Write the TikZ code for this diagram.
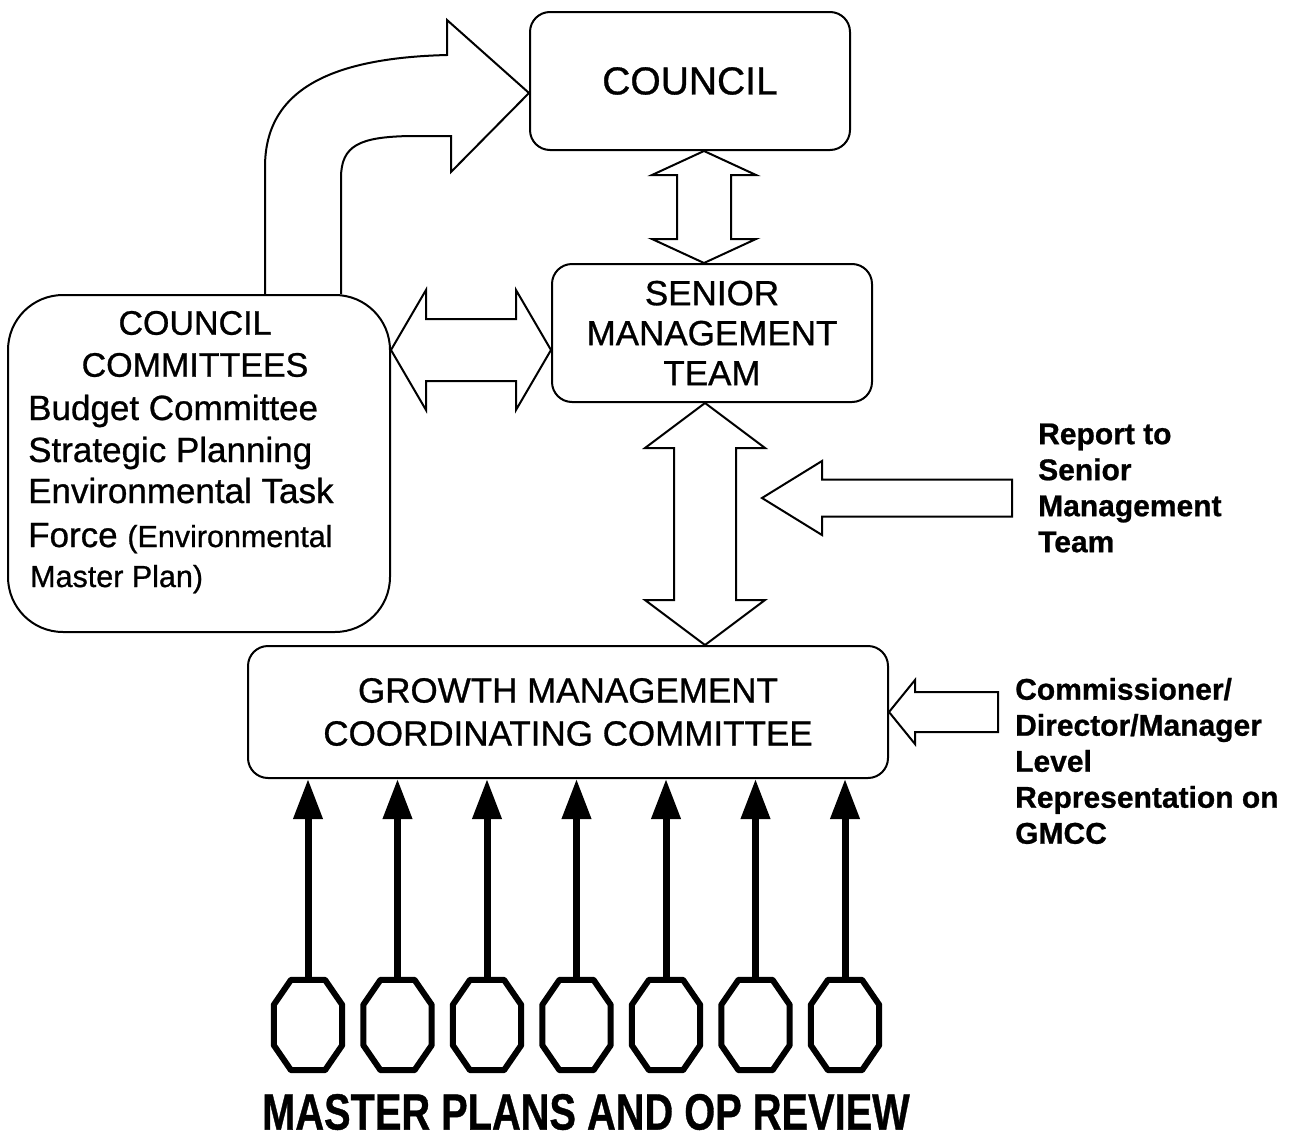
\documentclass[tikz,border=0pt]{standalone}
\usepackage{fontspec}
\setmainfont{Liberation Sans}[FakeBold=0.8]
\usepackage{graphicx}
\usetikzlibrary{calc,arrows.meta}
% vertical double block arrow: top tip, bottom tip, head length, head half width, shaft half width
\newcommand{\vdarrow}[5]{%
  \draw[blk] (#1) -- ($(#1)+(#4,#3)$) -- ($(#1)+(#5,#3)$) -- ($(#2)+(#5,-#3)$) -- ($(#2)+(#4,-#3)$) -- (#2)
    -- ($(#2)+(-#4,-#3)$) -- ($(#2)+(-#5,-#3)$) -- ($(#1)+(-#5,#3)$) -- ($(#1)+(-#4,#3)$) -- cycle;}
% horizontal double block arrow: left tip, right tip, head length, head half width, shaft half width
\newcommand{\hdarrow}[5]{%
  \draw[blk] (#1) -- ($(#1)+(#3,-#4)$) -- ($(#1)+(#3,-#5)$) -- ($(#2)+(-#3,-#5)$) -- ($(#2)+(-#3,-#4)$) -- (#2)
    -- ($(#2)+(-#3,#4)$) -- ($(#2)+(-#3,#5)$) -- ($(#1)+(#3,#5)$) -- ($(#1)+(#3,#4)$) -- cycle;}
% left pointing block arrow: tip, tail end, head length, head half width, shaft half width
\newcommand{\lblkarrow}[5]{%
  \draw[blk] (#1) -- ($(#1)+(#3,-#4)$) -- ($(#1)+(#3,-#5)$) -- ($(#2)+(0,-#5)$) -- ($(#2)+(0,#5)$)
    -- ($(#1)+(#3,#5)$) -- ($(#1)+(#3,#4)$) -- cycle;}
\begin{document}
\begin{tikzpicture}[x=1pt,y=-1pt,
  box/.style={draw,line width=2pt,rounded corners=20pt,inner sep=0pt,align=center},
  blk/.style={draw,line width=2pt,line join=miter},
  oct/.style={draw,line width=6pt,line join=round},
  octnode/.style={minimum width=68pt,minimum height=90pt,inner sep=0pt},
  uparr/.style={line width=7pt,-{Triangle[length=40pt,width=28pt]}},
  listtxt/.style={anchor=base west,inner sep=0pt,font=\fontsize{35}{42}\selectfont},
  sidelbl/.style={font=\bfseries\fontsize{30}{36}\selectfont,align=left,anchor=west,inner sep=0pt},
]
\useasboundingbox (0,0) rectangle (1299,1146);

% boxes
\node[box,minimum width=320pt,minimum height=138pt,font=\fontsize{39}{44}\selectfont] (council) at (690,81) {COUNCIL};
\node[box,minimum width=320pt,minimum height=138pt,font=\fontsize{35}{40}\selectfont] (smt) at (712,333) {SENIOR\\MANAGEMENT\\TEAM};
\node[box,rounded corners=55pt,minimum width=382pt,minimum height=337pt] (committees) at (199,463.5) {};
\node[box,minimum width=640pt,minimum height=132pt,font=\fontsize{35}{43}\selectfont] (gmcc) at (568,712) {GROWTH MANAGEMENT\\COORDINATING COMMITTEE};

% committee text
\node[inner sep=0pt,align=center,font=\fontsize{34}{42}\selectfont] (cchead) at (195,344) {COUNCIL\\COMMITTEES};
\node[listtxt] (l1) at (28,420) {Budget Committee};
\node[listtxt] (l2) at (28,462) {Strategic Planning};
\node[listtxt] (l3) at (28,503) {Environmental Task};
\node[listtxt] (l4) at (28,547) {Force {\fontsize{30.5}{35}\selectfont (Environmental}};
\node[listtxt,font=\fontsize{30.5}{35}\selectfont] (l5) at (30,587) {Master Plan)};

% side labels
\node[sidelbl] (rptl) at (1038,488) {Report to\\Senior\\Management\\Team};
\node[sidelbl] (cml) at (1015,761) {Commissioner/\\Director/Manager\\Level\\Representation on\\GMCC};

% block arrows
\coordinate (a1t) at ($(council.south)+(14,0)$);
\coordinate (a1b) at (a1t |- smt.north);
\vdarrow{a1t}{a1b}{24}{52}{27}
\coordinate (a2t) at ($(smt.south)+(-7,0)$);
\coordinate (a2b) at (a2t |- gmcc.north);
\vdarrow{a2t}{a2b}{45}{60}{31}
\coordinate (hr) at ($(smt.west)+(0,17)$);
\coordinate (hl) at (committees.east |- hr);
\hdarrow{hl}{hr}{35}{60}{31}
\coordinate (rt) at (762,498);
\coordinate (re) at (1012,498);
\lblkarrow{rt}{re}{60}{37}{18.5}
\coordinate (ct) at (gmcc.east);
\coordinate (ce) at ($(gmcc.east)+(109,0)$);
\lblkarrow{ct}{ce}{26}{32}{20}

% curved block arrow from committees to council
\coordinate (cvA) at ($(committees.north)+(66,0)$);
\coordinate (cvB) at ($(committees.north)+(142,0)$);
\coordinate (cvT) at ($(council.west)+(0,12)$);
\draw[blk] (cvA) -- (265,167) .. controls (265,90) and (330,58) .. (447,55) -- (447,20) -- (cvT)
  -- (451,172) -- (451,136) -- (410,136) .. controls (360,137) and (341,145) .. (341,178) -- (cvB);

% master plans
\foreach \i in {1,...,7} {
  \node[octnode] (o\i) at ({308+89.5*(\i-1)},1025) {};
  \draw[oct] ($(o\i.north)+(-17,0)$) -- ($(o\i.north)+(17,0)$) -- ($(o\i.north east)+(0,25)$)
    -- ($(o\i.south east)+(0,-25)$) -- ($(o\i.south)+(17,0)$) -- ($(o\i.south)+(-17,0)$)
    -- ($(o\i.south west)+(0,-25)$) -- ($(o\i.north west)+(0,25)$) -- cycle;
  \draw[uparr] (o\i.north) -- (o\i.north |- gmcc.south);
}
\node[inner sep=0pt,font=\bfseries\fontsize{51}{60}\selectfont] (mp) at (586,1112) {\scalebox{0.78}[1]{MASTER PLANS AND OP REVIEW}};
\end{tikzpicture}
\end{document}
